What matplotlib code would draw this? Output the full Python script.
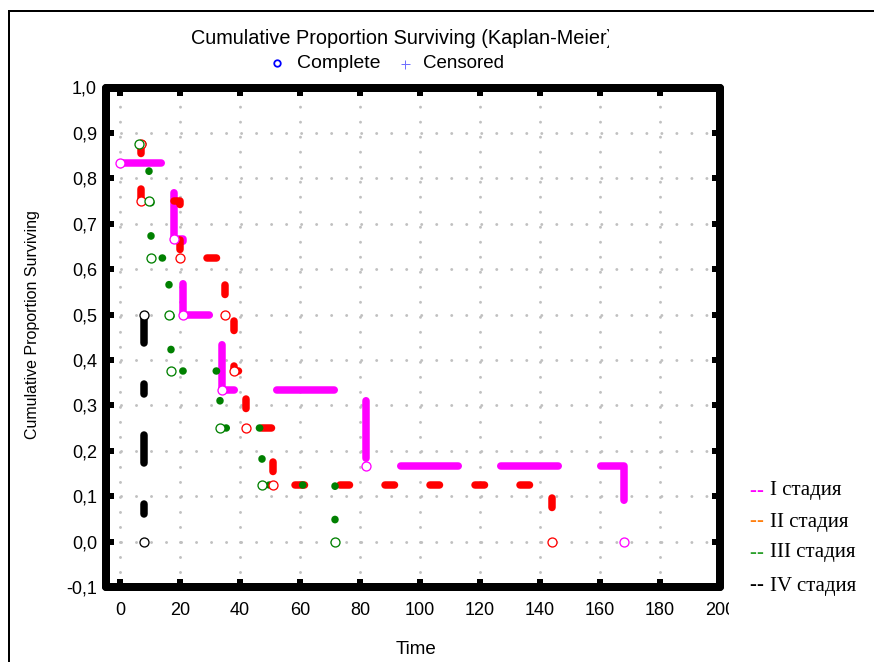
import matplotlib
matplotlib.use("Agg")
import matplotlib.pyplot as plt
from matplotlib.lines import Line2D
from matplotlib.transforms import Bbox, TransformedBbox

plt.rcParams["font.family"] = ["Liberation Sans", "DejaVu Sans"]
plt.rcParams["lines.scale_dashes"] = False

# Kaplan-Meier event points: time, cumulative proportion surviving
stage1_time = [0, 18, 21, 34, 82, 168]
stage1_surv = [0.833, 0.667, 0.5, 0.333, 0.167, 0.0]
stage2_time = [7, 7, 20, 35, 38, 42, 51, 144]
stage2_surv = [0.875, 0.75, 0.625, 0.5, 0.375, 0.25, 0.125, 0.0]
stage3_time = [6.3, 9.8, 10.3, 16.4, 17, 33.3, 47.4, 71.8]
stage3_surv = [0.875, 0.75, 0.625, 0.5, 0.375, 0.25, 0.125, 0.0]
stage4_time = [8, 8]
stage4_surv = [0.5, 0.0]

stage_labels = ["I стадия", "II стадия", "III стадия", "IV стадия"]
x_ticks = [0, 20, 40, 60, 80, 100, 120, 140, 160, 180, 200]
y_ticks = [-0.1, 0.0, 0.1, 0.2, 0.3, 0.4, 0.5, 0.6, 0.7, 0.8, 0.9, 1.0]

W, H = 874, 662
PX = 72 / 100  # pixel -> point at dpi 100

curve_colors = ["#ff00ff", "#ff0000", "#008000", "#000000"]
legend_colors = ["#ff00ff", "#ff7f0e", "#2ca02c", "#000000"]
# dash patterns in pixels: (offset, on/off sequence)
curve_dashes = [(16.25, (57.5, 42.5)), (0, (9.5, 35.5)), (29.8, (0.3, 33.1)), (0, (28, 41, 10, 41))]


def px_style(offset, seq):
    return (offset * PX, tuple(v * PX for v in seq))


def fig_xy(x, y):
    return x / W, 1 - y / H


def main():
    fig = plt.figure(figsize=(W / 100, H / 100), dpi=100)
    ax = fig.add_axes([106 / W, 1 - 587 / H, (720 - 106) / W, (587 - 87.5) / H])

    series = [(stage1_time, stage1_surv), (stage2_time, stage2_surv),
              (stage3_time, stage3_surv), (stage4_time, stage4_surv)]
    for (t, s), c, (off, seq) in zip(series, curve_colors, curve_dashes):
        ax.plot(t, s, drawstyle="steps-post", color=c, lw=7.5 * PX,
                linestyle=px_style(off, seq), dash_capstyle="round",
                dash_joinstyle="round", zorder=3)
    for (t, s), c in zip(series, curve_colors):
        ax.plot(t, s, ls="none", marker="o", ms=9 * PX, mfc="white", mec=c,
                mew=1.3 * PX, zorder=4)

    ax.set_xlim(-4.67, 200)
    ax.set_ylim(-0.1, 1.0)
    ax.set_xticks(x_ticks)
    ax.set_yticks(y_ticks)
    ax.set_yticklabels([f"{v:.1f}".replace(".", ",") for v in y_ticks])
    ax.grid(True, color="#c0c0c0", linestyle=px_style(0, (0.01, 15)),
            linewidth=3 * PX, dash_capstyle="round")
    ax.set_axisbelow(True)

    for sp in ax.spines.values():
        sp.set_linewidth(8 * PX)
        sp.set_capstyle("round")
        sp.set_joinstyle("round")
    ax.tick_params(axis="both", which="both", direction="in", length=8 * PX,
                   width=6 * PX, top=True, right=True, labelsize=13)
    ax.tick_params(axis="x", pad=11)
    ax.tick_params(axis="y", pad=6.5)

    # the last x label is cut off in the original
    clip = TransformedBbox(Bbox([[0, 0], [729 / W, 1]]), fig.transFigure)
    last = ax.xaxis.get_major_ticks()[-1].label1
    last.set_clip_on(True)
    last.set_clip_box(clip)

    ax.set_xlabel("Time", fontsize=13.5, va="center")
    ax.xaxis.set_label_coords(*fig_xy(416, 649), transform=fig.transFigure)
    ax.set_ylabel("Cumulative Proportion Surviving", fontsize=11.5, va="center")
    ax.yaxis.set_label_coords(*fig_xy(32.5, 325), transform=fig.transFigure)

    title = fig.text(*fig_xy(191, 38), "Cumulative Proportion Surviving (Kaplan-Meier)",
                     ha="left", va="center", fontsize=14.3)
    title.set_clip_on(True)
    title.set_clip_box(TransformedBbox(Bbox([[0, 0], [609 / W, 1]]), fig.transFigure))

    # Complete / Censored key
    fig.add_artist(Line2D([276.7 / W], [1 - 63 / H], transform=fig.transFigure, ls="none",
                          marker="o", ms=6.5 * PX, mfc="none", mec="blue", mew=1.8 * PX))
    fig.text(*fig_xy(297, 64), "Complete", ha="left", va="center", fontsize=14)
    fig.add_artist(Line2D([405 / W], [1 - 64 / H], transform=fig.transFigure, ls="none",
                          marker="+", ms=9 * PX, color="#7070ff", mew=1 * PX))
    fig.text(*fig_xy(423, 64), "Censored", ha="left", va="center", fontsize=13.5)

    for lab, c, y in zip(stage_labels, legend_colors, [491, 522, 553, 586]):
        for hx in (749, 756.5):
            fig.text(*fig_xy(hx, y), "-", color=c, family="Liberation Serif",
                     fontsize=15, va="center")
        fig.text(*fig_xy(770, y), lab, color="black", family="Liberation Serif",
                 fontsize=15, va="center")

    fig.add_artist(Line2D([9 / W, 1], [1 - 11 / H] * 2, transform=fig.transFigure,
                          color="black", lw=2 * PX))
    fig.add_artist(Line2D([9 / W, 9 / W], [0, 1 - 11 / H], transform=fig.transFigure,
                          color="black", lw=2 * PX))

    fig.savefig("out.png", dpi=100)


if __name__ == "__main__":
    main()
